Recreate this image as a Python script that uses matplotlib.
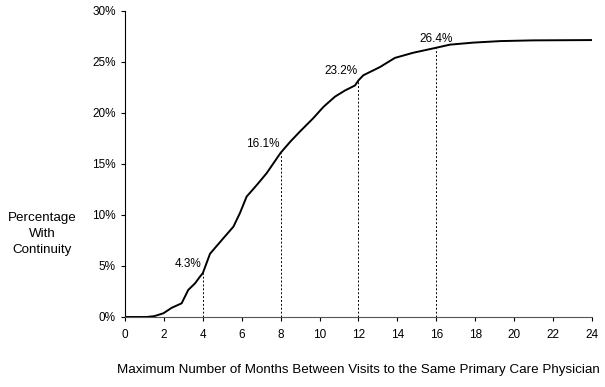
import matplotlib.pyplot as plt
import numpy as np

plt.rcParams['font.family'] = ['Liberation Sans', 'DejaVu Sans']

# cumulative curve
months = [0, 1.1, 1.5, 1.97, 2.4, 2.91, 3.25, 3.6, 3.85, 4.0, 4.37, 5.0, 5.57, 5.91,
          6.25, 6.8, 7.28, 8.0, 8.5, 9.0, 9.68, 10.2, 10.79, 11.3, 11.82, 12.0, 12.25,
          13.1, 13.87, 14.8, 16.0, 16.7, 17.9, 19.3, 21.0, 24.0]
pct = [0, 0, 0.08, 0.36, 0.9, 1.34, 2.65, 3.3, 3.95, 4.3, 6.2, 7.6, 8.85, 10.2,
       11.8, 13.0, 14.1, 16.1, 17.2, 18.2, 19.5, 20.6, 21.6, 22.2, 22.7, 23.2, 23.7,
       24.5, 25.4, 25.9, 26.4, 26.7, 26.9, 27.05, 27.12, 27.15]

marks = [4, 8, 12, 16]
mark_vals = [4.3, 16.1, 23.2, 26.4]
mark_labels = ["4.3%", "16.1%", "23.2%", "26.4%"]

fig = plt.figure(figsize=(6.05, 3.87), dpi=100)
ax = fig.add_axes([0.2066, 0.1809, 0.7719, 0.7907])

ax.plot(months, pct, color="black", linewidth=1.4)

for m, v, lab in zip(marks, mark_vals, mark_labels):
    ax.plot([m, m], [0, v], color="black", linestyle=(0, (2, 2)), linewidth=0.7)
    if m == 16:
        ax.text(m, v + 0.3, lab, ha="center", va="bottom", fontsize=8.5)
    else:
        ax.text(m - 0.05, v + 0.3, lab, ha="right", va="bottom", fontsize=8.5)

ax.set_xlim(0, 24)
ax.set_ylim(0, 30)
ax.set_xticks(range(0, 25, 2))
ax.set_yticks(range(0, 31, 5))
ax.set_yticklabels([f"{v}%" for v in range(0, 31, 5)])
ax.tick_params(labelsize=8.5, length=3, width=0.8)
ax.tick_params(axis="x", pad=6)

for s in ["top", "right"]:
    ax.spines[s].set_visible(False)
ax.spines["bottom"].set_color("#555555")

ax.set_xlabel("Maximum Number of Months Between Visits to the Same Primary Care Physician",
              fontsize=9.6, labelpad=16)
fig.text(0.07, 0.395, "Percentage\nWith\nContinuity", ha="center", va="center",
         fontsize=9.6, linespacing=1.45)

plt.savefig("out.png", dpi=100)
